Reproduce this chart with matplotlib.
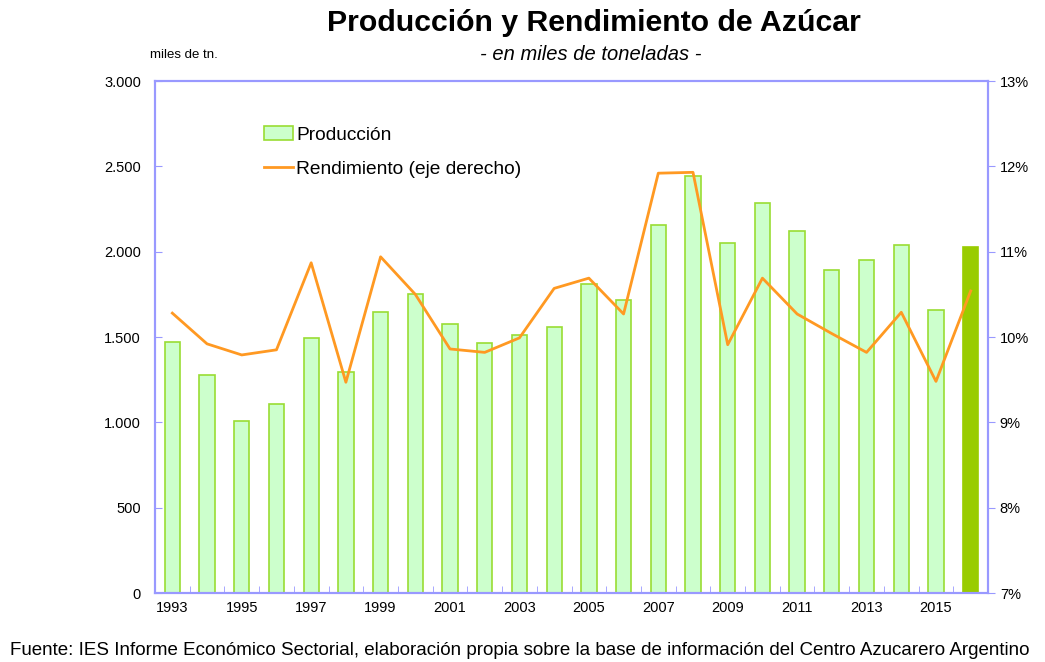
import matplotlib
matplotlib.use("Agg")
import matplotlib.pyplot as plt
import numpy as np
from matplotlib.ticker import FuncFormatter, FixedLocator

plt.rcParams.update({
    "font.family": ["Liberation Sans", "DejaVu Sans"],
    "font.size": 10,
})

# ── data ──────────────────────────────────────────────────────────────────────
years = list(range(1993, 2017))
produccion = [1470, 1277, 1008, 1107, 1494, 1295, 1646, 1752, 1576, 1465, 1512, 1558,
              1810, 1717, 2156, 2443, 2050, 2285, 2121, 1892, 1951, 2039, 1658, 2027]
rendimiento = [10.28, 9.92, 9.79, 9.85, 10.87, 9.47, 10.94, 10.50, 9.86, 9.82, 9.99, 10.57,
               10.69, 10.27, 11.92, 11.93, 9.91, 10.69, 10.27, 10.04, 9.82, 10.29, 9.48, 10.54]

spine_col = "#9999FF"
bar_fill = "#CCFFCC"
bar_edge = "#99DD33"
last_col = "#99CC00"
line_col = "#FF9922"

fig = plt.figure(figsize=(10.45, 6.62), dpi=100)
ax = fig.add_axes([0.1483, 0.1042, 0.7972, 0.7734])
ax2 = ax.twinx()

x = np.arange(len(years))
colors = [bar_fill] * (len(years) - 1) + [last_col]
edges = [bar_edge] * (len(years) - 1) + [last_col]
ax.bar(x, produccion, width=0.44, color=colors, edgecolor=edges, linewidth=1.2,
       label="Producción", zorder=2)
ax2.plot(x, rendimiento, color=line_col, linewidth=2, label="Rendimiento (eje derecho)")

ax.set_xlim(-0.5, len(years) - 0.5)
ax.set_ylim(0, 3000)
ax2.set_ylim(7, 13)

ax.set_yticks(np.arange(0, 3001, 500))
ax.yaxis.set_major_formatter(FuncFormatter(lambda v, p: f"{int(v):,}".replace(",", ".")))
ax2.set_yticks(np.arange(7, 14, 1))
ax2.yaxis.set_major_formatter(FuncFormatter(lambda v, p: f"{int(v)}%"))

ax.set_xticks(x[::2])
ax.set_xticklabels([str(y) for y in years[::2]])
ax.xaxis.set_minor_locator(FixedLocator(np.arange(-0.5, len(years), 1)))
ax.tick_params(axis="x", which="major", length=0, pad=6, labelsize=10.5)
ax.tick_params(axis="x", which="minor", direction="in", length=5, color=spine_col)
ax.tick_params(axis="y", direction="in", length=5, color=spine_col, labelsize=10.5, pad=10)
ax2.tick_params(axis="y", direction="out", length=5, color=spine_col, labelsize=10.5)

for a in (ax, ax2):
    for s in a.spines.values():
        s.set_color(spine_col)
        s.set_linewidth(1.5)

# ── legend ────────────────────────────────────────────────────────────────────
h1, l1 = ax.get_legend_handles_labels()
h2, l2 = ax2.get_legend_handles_labels()
leg = ax.legend([h1[0], h2[0]], [l1[0], l2[0]], loc="upper left",
                bbox_to_anchor=(0.11, 0.945), frameon=False, fontsize=13.8,
                handlelength=1.5, handletextpad=0.2, labelspacing=0.85)
leg.legend_handles[0].set_color(bar_fill)
leg.legend_handles[0].set_edgecolor(bar_edge)

# ── texts ─────────────────────────────────────────────────────────────────────
fig.text(0.568, 0.965, "Producción y Rendimiento de Azúcar", ha="center", va="center",
         fontsize=21.8, fontweight="bold")
fig.text(0.565, 0.917, "- en miles de toneladas -", ha="center", va="center",
         fontsize=14.5, style="italic")
fig.text(0.144, 0.917, "miles de tn.", ha="left", va="center", fontsize=9.5)
fig.text(0.01, 0.018, "Fuente: IES Informe Económico Sectorial, elaboración propia sobre la base "
         "de información del Centro Azucarero Argentino", ha="left", va="center", fontsize=13.5)

fig.savefig("out.png", dpi=100)
